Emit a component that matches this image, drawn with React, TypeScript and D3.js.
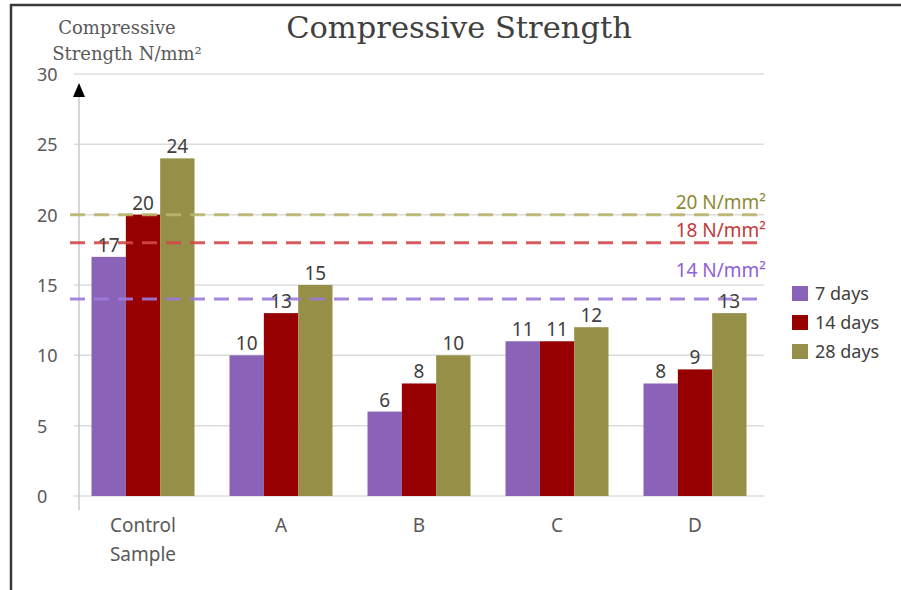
import React from "react";
import * as d3 from "d3";

// Chart data
const categories = ["Control Sample", "A", "B", "C", "D"];
const seriesNames = ["7 days", "14 days", "28 days"];
const days7 = [17, 10, 6, 11, 8];
const days14 = [20, 13, 8, 11, 9];
const days28 = [24, 15, 10, 12, 13];
const yTicks = [0, 5, 10, 15, 20, 25, 30];
const targetValues = [20, 18, 14];
const targetLabels = ["20 N/mm²", "18 N/mm²", "14 N/mm²"];

const seriesValues = [days7, days14, days28];
const barColors = ["#8a63b8", "#960000", "#958f47"];
const targetLineColors = ["#bab56c", "#d24a4a", "#9d7bd9"];
const targetTextColors = ["#8c8a32", "#c23a3a", "#8f60d6"];
// how far above its line each target label sits
const targetLabelLift = [6, 6, 22];

const W = 901;
const H = 590;
const plotLeft = 74;
const plotRight = 764;

export default function App() {
  const y = d3.scaleLinear().domain([0, 30]).range([496, 74]);
  const x = d3.scaleBand<string>().domain(categories).range([plotLeft, plotRight]).padding(0);
  const xs = d3
    .scaleBand<string>()
    .domain(seriesNames)
    .range([0, x.bandwidth()])
    .paddingInner(0)
    .paddingOuter(0.51);

  const sansFont = "'Noto Sans', 'Open Sans', sans-serif";
  const serifFont = "'DejaVu Serif', serif";

  return (
    <svg
      width={W}
      height={H}
      style={{ position: "absolute", left: 0, top: 0, background: "#fff" }}
      fontFamily={sansFont}
    >
      {/* frame edges */}
      <line x1={10} x2={W} y1={5} y2={5} stroke="#3a3a3a" strokeWidth={2.5} />
      <line x1={11} x2={11} y1={4} y2={H} stroke="#3a3a3a" strokeWidth={2.5} />

      {/* title */}
      <text x={459} y={38} textAnchor="middle" fontFamily={serifFont} fontSize={30.5} fill="#404040">
        Compressive Strength
      </text>

      {/* y-axis title */}
      <text x={117} y={34} textAnchor="middle" fontFamily={serifFont} fontSize={18} fill="#595959">
        Compressive
      </text>
      <text x={127} y={60} textAnchor="middle" fontFamily={serifFont} fontSize={18} fill="#595959">
        Strength N/mm²
      </text>

      {/* gridlines and y ticks */}
      {yTicks.map((t) => (
        <g key={t}>
          <line x1={plotLeft} x2={plotRight} y1={y(t)} y2={y(t)} stroke="#dcdcdc" strokeWidth={1.5} />
          <text x={37} y={y(t) + 7} fontSize={18} fill="#595959">
            {t}
          </text>
        </g>
      ))}

      {/* vertical axis with arrow */}
      <line x1={79} x2={79} y1={90} y2={510} stroke="#c8c8c8" strokeWidth={1.5} />
      <path d={`M79,83 L73,97 L85,97 Z`} fill="#000" />

      {/* bars */}
      {categories.map((c, ci) => (
        <g key={c} transform={`translate(${x(c)},0)`}>
          {seriesNames.map((s, si) => {
            const v = seriesValues[si][ci];
            return (
              <rect
                key={s}
                x={xs(s)}
                y={y(v)}
                width={xs.bandwidth()}
                height={y(0) - y(v)}
                fill={barColors[si]}
              />
            );
          })}
        </g>
      ))}

      {/* target strength lines */}
      {targetValues.map((v, i) => (
        <g key={v}>
          <line
            x1={70}
            x2={766}
            y1={y(v)}
            y2={y(v)}
            stroke={targetLineColors[i]}
            strokeWidth={3}
            strokeDasharray="15 9"
            opacity={0.9}
          />
          <text
            x={766}
            y={y(v) - targetLabelLift[i]}
            textAnchor="end"
            fontSize={19}
            fill={targetTextColors[i]}
          >
            {targetLabels[i]}
          </text>
        </g>
      ))}

      {/* value labels */}
      {categories.map((c, ci) => (
        <g key={c} transform={`translate(${x(c)},0)`}>
          {seriesNames.map((s, si) => {
            const v = seriesValues[si][ci];
            return (
              <text
                key={s}
                x={(xs(s) ?? 0) + xs.bandwidth() / 2}
                y={y(v) - 5}
                textAnchor="middle"
                fontSize={19}
                fill="#404040"
              >
                {v}
              </text>
            );
          })}
        </g>
      ))}

      {/* category labels */}
      {categories.map((c) => {
        const cx = (x(c) ?? 0) + x.bandwidth() / 2;
        const parts = c.split(" ");
        return (
          <text key={c} x={cx} y={532} textAnchor="middle" fontSize={19} fill="#595959">
            {parts.map((p, i) => (
              <tspan key={p} x={cx} dy={i === 0 ? 0 : 29}>
                {p}
              </tspan>
            ))}
          </text>
        );
      })}

      {/* legend */}
      {seriesNames.map((s, i) => (
        <g key={s} transform={`translate(792,${286 + i * 29})`}>
          <rect x={0} y={0} width={16} height={15} fill={barColors[i]} />
          <text x={23} y={14} fontSize={18} fill="#404040">
            {s}
          </text>
        </g>
      ))}
    </svg>
  );
}
